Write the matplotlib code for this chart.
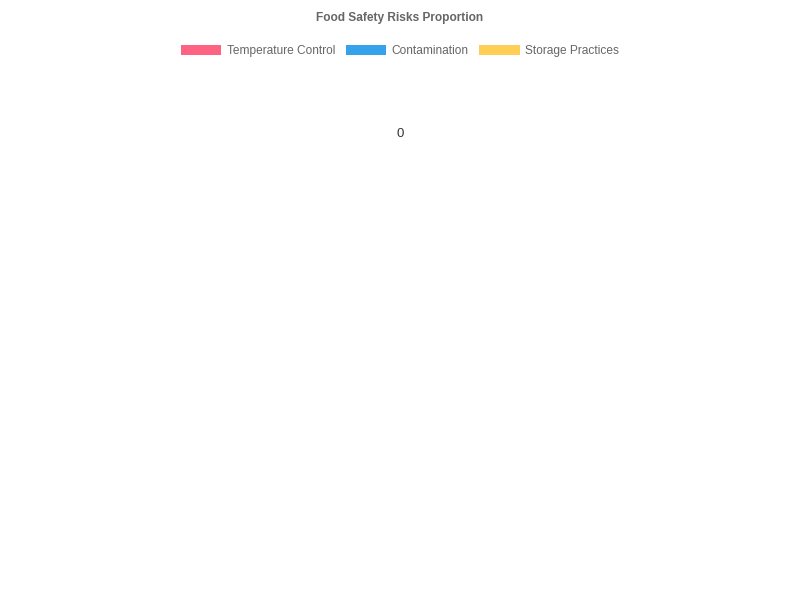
import matplotlib.pyplot as plt
from matplotlib.patches import Patch

labels = ["Temperature Control", "Contamination", "Storage Practices"]
values = [0, 0, 0]
colors = ["#FF6384", "#36A2EB", "#FFCE56"]

plt.rcParams["font.family"] = ["Liberation Sans", "DejaVu Sans"]

fig = plt.figure(figsize=(8, 6), dpi=100)
ax = fig.add_axes([0, 0, 1, 1])
ax.set_xlim(0, 800)
ax.set_ylim(600, 0)
ax.axis("off")

fig.text(0.5, 1 - 18 / 600, "Food Safety Risks Proportion", ha="center", va="center",
         fontsize=8.6, fontweight="bold", color="#666666")

handles = [Patch(facecolor=c, edgecolor="none", label=l) for c, l in zip(colors, labels)]
fig.legend(handles=handles, loc="center", bbox_to_anchor=(0.5, 1 - 51 / 600), ncol=3,
           frameon=False, fontsize=8.6, labelcolor="#666666",
           handlelength=3.35, handleheight=0.83, handletextpad=0.5, columnspacing=0.9,
           borderpad=0, borderaxespad=0)

# all values are zero, so nothing is drawn except the value label
ax.text(400, 134, str(sum(values)), ha="center", va="center", fontsize=9.5, color="#333333")

fig.savefig("out.png", dpi=100, facecolor="white")
